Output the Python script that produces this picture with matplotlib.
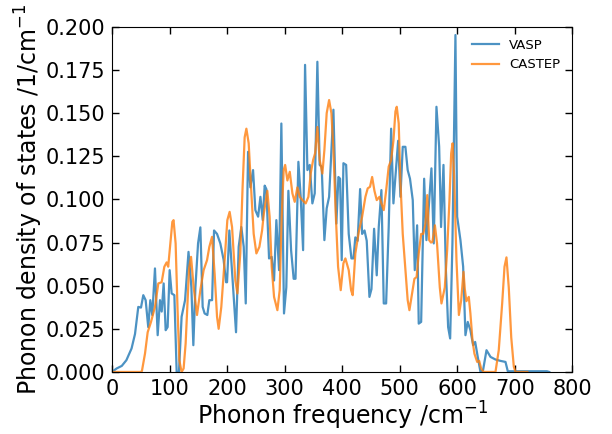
import matplotlib
matplotlib.use("Agg")
import matplotlib.pyplot as plt

vasp_freq = [0, 8, 17, 25, 34, 40, 45.7, 50.4, 54.4, 58.5, 63, 66.6, 70, 74.7, 79.4, 83.4, 86.4,
             89.8, 93.3, 96.7, 100.2, 103.7, 108.4, 112.4, 116.4, 121, 127, 133, 138, 141.4, 145,
             149.6, 153.6, 157.6, 161, 165.7, 169.2, 174, 177.4, 182.6, 188.3, 194, 198.3, 200,
             204, 209.7, 215.6, 220.2, 224.8, 229, 232.5, 236.5, 240.5, 245.2, 249.2, 254, 258,
             262, 265.4, 268.3, 273, 277.6, 281.7, 285.7, 290.4, 294.4, 299, 303, 306.6, 311.3,
             315.8, 319, 324, 328, 332.2, 335.6, 339.7, 343.7, 348.3, 352.4, 357, 361, 364.5,
             369.2, 373.2, 377.4, 384.9, 390, 393.6, 396.5, 399.3, 402.3, 407, 411.5, 416.2,
             419.7, 423, 427, 431.3, 434.8, 439, 442.8, 447.5, 451, 455.6, 460.2, 463.7, 468.3,
             472.4, 476.5, 481, 485.2, 489.2, 494, 497.4, 501.4, 505.4, 510, 514, 518, 522.8,
             526.3, 530.4, 533.2, 537.4, 542.6, 546.6, 550.6, 555.3, 559.3, 564, 568.7, 572,
             576.2, 580.2, 584.3, 587.8, 591.8, 597, 600, 605.7, 610.4, 614.4, 618.4, 623, 627.8,
             631.3, 635.8, 640.5, 645, 651, 658, 666.6, 675.4, 684, 688, 720, 756, 760]
vasp_dos = [0, 0.002, 0.0035, 0.0068, 0.0136, 0.022, 0.0377, 0.0373, 0.0445, 0.0416, 0.026, 0.0416,
            0.033, 0.060, 0.0213, 0.0416, 0.035, 0.0513, 0.0242, 0.026, 0.059, 0.0455, 0.0445, 0,
            0, 0.032, 0.0416, 0.0696, 0.049, 0.0155, 0.049, 0.0745, 0.0838, 0.0377, 0.0339,
            0.033, 0.0416, 0.0416, 0.082, 0.080, 0.0745, 0.065, 0.052, 0.052, 0.082, 0.053, 0.023,
            0.0725, 0.084, 0.0725, 0.0397, 0.1276, 0.107, 0.117, 0.0938, 0.090, 0.1015, 0.088,
            0.108, 0.106, 0.0658, 0.0667, 0.053, 0.088, 0.059, 0.144, 0.0339, 0.049, 0.105,
            0.0706, 0.054, 0.054, 0.1218, 0.1015, 0.0706, 0.178, 0.117, 0.12, 0.0977, 0.1035,
            0.1798, 0.12, 0.119, 0.0764, 0.0948, 0.1015, 0.152, 0.086, 0.113, 0.112, 0.0648,
            0.121, 0.12, 0.080, 0.0658, 0.0658, 0.078, 0.076, 0.106, 0.080, 0.082, 0.076, 0.0435,
            0.048, 0.083, 0.056, 0.084, 0.1054, 0.0397, 0.0397, 0.084, 0.141, 0.0977, 0.119,
            0.134, 0.1015, 0.1305, 0.1305, 0.117, 0.112, 0.0996, 0.059, 0.085, 0.028, 0.029,
            0.112, 0.0764, 0.0957, 0.118, 0.0745, 0.1537, 0.1305, 0.084, 0.12, 0.061, 0.026,
            0.0194, 0.075, 0.1953, 0.090, 0.0764, 0.061, 0.0213, 0.029, 0.0242, 0.0155, 0.0174,
            0.0087, 0, 0.001, 0.0126, 0.0087, 0.0072, 0.0064, 0.0058, 0.0004, 0.0004, 0.0004, 0]

castep_freq = [0, 50, 52, 57.4, 62, 67.8, 74.7, 80.5, 86.3, 91, 95, 97.7, 101.4, 104.9, 107, 110.6,
               114, 117, 121, 124.5, 128, 131.5, 134, 137.4, 142, 147.8, 153.6, 159.3, 165.2,
               169.2, 173.9, 178.4, 182.6, 185.4, 190, 195.8, 200.5, 204.5, 208.7, 214.4, 218,
               223, 227, 230.6, 233.6, 237.6, 241.7, 246.3, 251, 256.2, 260.9, 264, 270, 274,
               277.6, 281.7, 287.5, 291.5, 295, 298.4, 301, 304.9, 309, 313.6, 317.6, 322.3,
               326.3, 331, 336.7, 341.4, 345.4, 349.6, 353, 357, 361, 365.7, 369.2, 373.2, 377.4,
               381.4, 384.9, 388.9, 393, 397.6, 402.3, 405.7, 411.5, 415.6, 418.4, 423, 428.9,
               434.8, 440.5, 444.5, 448.5, 452.2, 456.2, 460.2, 464.9, 468.3, 472.4, 476.5, 481,
               485.2, 489.2, 492.7, 495, 498.4, 501.4, 505.4, 509.6, 514, 517, 521.7, 525.7,
               529.5, 533.2, 537.4, 541, 544.9, 548, 551.3, 554.5, 557, 561.3, 565, 569.8, 572.7,
               578.5, 582.6, 586.6, 589.6, 592, 594.8, 598.8, 603, 607, 611, 613.3, 616, 620.2,
               623, 626.6, 630, 634.8, 638.3, 641.7, 646, 666.6, 672.3, 678.3, 682.3, 685.7,
               689.7, 694, 698.5, 701.4, 722]
castep_dos = [0, 0, 0.0005, 0.0107, 0.023, 0.029, 0.0377, 0.0513, 0.052, 0.061, 0.0635, 0.061,
              0.0745, 0.087, 0.088, 0.0745, 0.0358, 0.0068, 0, 0.002, 0.0165, 0.0416, 0.060,
              0.0667, 0.049, 0.033, 0.0474, 0.059, 0.0648, 0.0725, 0.0783, 0.057, 0.032, 0.025,
              0.0377, 0.0648, 0.088, 0.0928, 0.084, 0.053, 0.0455, 0.0687, 0.107, 0.136, 0.141,
              0.1325, 0.107, 0.080, 0.0687, 0.0725, 0.082, 0.092, 0.105, 0.090, 0.061, 0.0435,
              0.0358, 0.0474, 0.090, 0.117, 0.12, 0.111, 0.116, 0.1035, 0.0986, 0.107, 0.1015,
              0.0996, 0.0977, 0.1015, 0.115, 0.1228, 0.1267, 0.142, 0.1228, 0.115, 0.1286, 0.150,
              0.1576, 0.150, 0.1286, 0.0919, 0.061, 0.0474, 0.063, 0.0658, 0.059, 0.0474, 0.0445,
              0.0687, 0.081, 0.090, 0.1015, 0.1064, 0.1073, 0.113, 0.105, 0.0996, 0.1015, 0.0977,
              0.0938, 0.105, 0.119, 0.1228, 0.134, 0.151, 0.1537, 0.144, 0.110, 0.080, 0.061,
              0.0416, 0.0358, 0.0455, 0.054, 0.055, 0.0687, 0.080, 0.080, 0.086, 0.1025, 0.0764,
              0.075, 0.0754, 0.085, 0.0745, 0.049, 0.0397, 0.049, 0.0706, 0.0996, 0.1267, 0.1325,
              0.113, 0.0648, 0.033, 0.0416, 0.058, 0.048, 0.0410, 0.0435, 0.0339, 0.0184, 0.0106,
              0.0058, 0.0064, 0.002, 0, 0, 0.0126, 0.040, 0.061, 0.0664, 0.049, 0.020, 0.003, 0, 0]

series_labels = ["VASP", "CASTEP"]
x_ticks = [0, 100, 200, 300, 400, 500, 600, 700, 800]
y_ticks = [0.000, 0.025, 0.050, 0.075, 0.100, 0.125, 0.150, 0.175, 0.200]

fig = plt.figure(figsize=(6.12, 4.34), dpi=100)
ax = fig.add_axes([0.183, 0.143, 0.752, 0.795])
ax.plot(vasp_freq, vasp_dos, color="#1f77b4", alpha=0.8, lw=1.6, label=series_labels[0])
ax.plot(castep_freq, castep_dos, color="#ff7f0e", alpha=0.8, lw=1.6, label=series_labels[1])
ax.set_xlim(0, 800)
ax.set_ylim(0, 0.2)
ax.set_xticks(x_ticks)
ax.set_yticks(y_ticks)
ax.set_yticklabels([f"{v:.3f}" for v in y_ticks])
ax.tick_params(direction="in", top=True, right=True, labelsize=15, length=5, width=1, pad=5)
ax.set_xlabel("Phonon frequency /cm$^{-1}$", fontsize=17, labelpad=1)
ax.set_ylabel("Phonon density of states /1/cm$^{-1}$", fontsize=17, labelpad=0.5)
ax.legend(loc="upper right", frameon=False, fontsize=9.5)
fig.savefig("out.png", dpi=100)
